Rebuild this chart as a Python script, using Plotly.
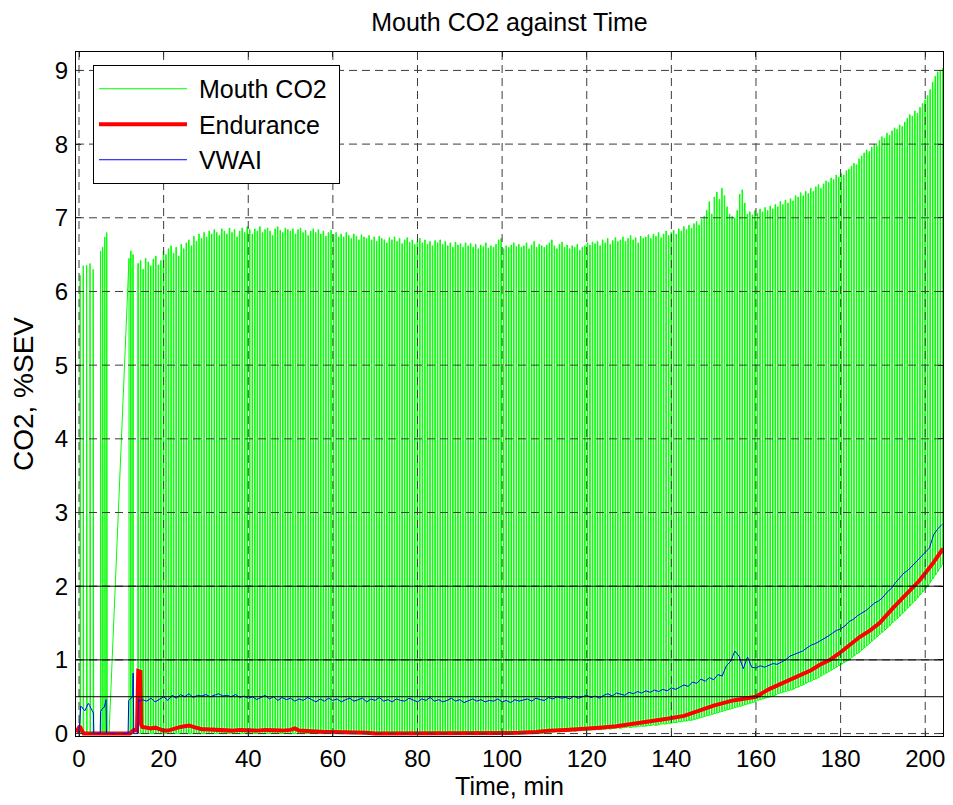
import plotly.graph_objects as go

# ---------------- data ----------------
x_ticks = [0, 20, 40, 60, 80, 100, 120, 140, 160, 180, 200]
y_ticks = [0, 1, 2, 3, 4, 5, 6, 7, 8, 9]
ref_levels = [0.5, 1, 2]
x_range = [-0.71, 204.2]
y_range = [-0.033, 9.25]

# Mouth CO2 - breaths before the logger gap
pre_gap_t = [0.25, 1.0, 1.8, 2.6, 3.35, 5.1, 5.6, 6.1, 6.55]
pre_gap_peak = [6.22, 6.35, 6.36, 6.38, 6.30, 6.55, 6.60, 6.74, 6.80]
gap_start_t = 7.1
# breaths right after the gap
post_gap_t = [11.7, 12.2, 12.7]
post_gap_peak = [6.45, 6.55, 6.50]
# continuous breathing from 13.9 min on, one breath every 0.6 min
breath_start = 13.9
breath_period = 0.6
breath_peak = [
    6.38, 6.42, 6.30, 6.45, 6.40, 6.35, 6.44, 6.48, 6.36, 6.42,
    6.55, 6.50, 6.58, 6.62, 6.52, 6.60, 6.48, 6.64, 6.58, 6.66,
    6.70, 6.62, 6.75, 6.68, 6.78, 6.72, 6.80, 6.74, 6.82, 6.78,
    6.84, 6.80, 6.76, 6.85, 6.82, 6.78, 6.86, 6.80, 6.84, 6.74,
    6.82, 6.86, 6.80, 6.88, 6.84, 6.78, 6.85, 6.82, 6.88, 6.80,
    6.84, 6.86, 6.82, 6.76, 6.85, 6.88, 6.83, 6.80, 6.86, 6.84,
    6.82, 6.85, 6.78, 6.84, 6.86, 6.80, 6.83, 6.76, 6.82, 6.85,
    6.80, 6.84, 6.78, 6.82, 6.75, 6.80, 6.83, 6.77, 6.80, 6.74,
    6.78, 6.74, 6.80, 6.76, 6.72, 6.78, 6.75, 6.70, 6.77, 6.74,
    6.72, 6.76, 6.70, 6.74, 6.68, 6.75, 6.72, 6.70, 6.66, 6.73,
    6.70, 6.74, 6.68, 6.72, 6.65, 6.70, 6.73, 6.67, 6.70, 6.64,
    6.68, 6.72, 6.66, 6.70, 6.64, 6.68, 6.62, 6.69, 6.66, 6.70,
    6.64, 6.68, 6.62, 6.66, 6.60, 6.67, 6.63, 6.65, 6.60, 6.66,
    6.62, 6.65, 6.60, 6.64, 6.58, 6.63, 6.61, 6.66, 6.59, 6.62,
    6.60, 6.64, 6.70, 6.72, 6.58, 6.62, 6.60, 6.63, 6.66, 6.61,
    6.64, 6.60, 6.62, 6.66, 6.58, 6.63, 6.68, 6.60, 6.64, 6.62,
    6.60, 6.63, 6.66, 6.70, 6.62, 6.58, 6.64, 6.67, 6.60, 6.63,
    6.58, 6.62, 6.60, 6.64, 6.56, 6.60, 6.62, 6.66, 6.63, 6.67,
    6.65, 6.68, 6.62, 6.70, 6.66, 6.72, 6.64, 6.69, 6.73, 6.68,
    6.70, 6.74, 6.68, 6.72, 6.76, 6.70, 6.73, 6.66, 6.75, 6.72,
    6.74, 6.77, 6.72, 6.78, 6.75, 6.80, 6.73, 6.78, 6.82, 6.76,
    6.80, 6.83, 6.78, 6.85, 6.82, 6.88, 6.84, 6.90, 6.86, 6.92,
    6.95, 6.90, 6.98, 7.02, 7.10, 7.22, 7.05, 7.28, 7.35, 7.25,
    7.40, 7.30, 7.15, 7.05, 7.02, 7.00, 7.10, 7.32, 7.38, 7.20,
    7.05, 7.08, 7.04, 7.10, 7.06, 7.12, 7.08, 7.14, 7.10, 7.16,
    7.12, 7.18, 7.15, 7.22, 7.18, 7.24, 7.20, 7.26, 7.23, 7.30,
    7.28, 7.34, 7.30, 7.36, 7.33, 7.40, 7.36, 7.42, 7.45, 7.40,
    7.46, 7.50, 7.48, 7.54, 7.52, 7.58, 7.55, 7.60, 7.58, 7.64,
    7.66, 7.70, 7.74, 7.72, 7.80, 7.84, 7.88, 7.92, 7.90, 7.96,
    8.00, 7.98, 8.05, 8.10, 8.08, 8.15, 8.12, 8.18, 8.22, 8.20,
    8.26, 8.24, 8.30, 8.35, 8.40, 8.38, 8.45, 8.42, 8.50, 8.55,
    8.60, 8.66, 8.74, 8.84, 8.92, 8.98, 9.00, 9.03,
]
breath_trough = [0.0] * 160 + [
    0.01, 0.02, 0.01, 0.02, 0.02, 0.03, 0.02, 0.03, 0.03, 0.03,
    0.03, 0.04, 0.03, 0.04, 0.04, 0.05, 0.04, 0.05, 0.05, 0.05,
    0.05, 0.06, 0.05, 0.06, 0.06, 0.07, 0.06, 0.07, 0.07, 0.08,
    0.07, 0.08, 0.08, 0.09, 0.08, 0.09, 0.09, 0.10, 0.10, 0.10,
    0.10, 0.11, 0.11, 0.12, 0.11, 0.12, 0.13, 0.13, 0.13, 0.14,
    0.14, 0.15, 0.15, 0.16, 0.16, 0.17, 0.17, 0.18, 0.18, 0.19,
    0.20, 0.21, 0.22, 0.23, 0.24, 0.25, 0.26, 0.27, 0.28, 0.29,
    0.30, 0.31, 0.32, 0.33, 0.34, 0.35, 0.36, 0.37, 0.38, 0.39,
    0.40, 0.41, 0.42, 0.43, 0.45, 0.46, 0.47, 0.48, 0.49, 0.50,
    0.51, 0.52, 0.54, 0.55, 0.56, 0.57, 0.58, 0.59, 0.60, 0.62,
    0.63, 0.65, 0.66, 0.68, 0.70, 0.71, 0.73, 0.74, 0.76, 0.78,
    0.80, 0.82, 0.84, 0.86, 0.88, 0.90, 0.92, 0.94, 0.96, 0.98,
    1.00, 1.03, 1.05, 1.08, 1.10, 1.13, 1.16, 1.19, 1.22, 1.25,
    1.28, 1.31, 1.34, 1.37, 1.40, 1.43, 1.46, 1.50, 1.53, 1.56,
    1.59, 1.63, 1.66, 1.70, 1.73, 1.77, 1.80, 1.84, 1.88, 1.92,
    1.96, 2.00, 2.05, 2.10, 2.15, 2.20, 2.25, 2.30,
]

# Endurance
endurance_t = [
    -0.7, 0.0, 0.2, 0.5, 0.8, 1.1, 12.0, 12.5, 13.0, 13.7, 13.9, 14.0, 14.5, 14.7, 15.0,
    16, 17, 18, 19, 20, 21, 22, 23, 24, 25, 26, 27, 28, 29, 30,
    32, 34, 36, 38, 40, 42, 44, 46, 48, 50, 51, 52, 54, 56, 58, 60, 62, 64, 66, 68, 70,
    75, 80, 85, 90, 95, 100, 104, 108, 111, 115, 119, 123, 127, 131, 135, 139, 143,
    146.7, 150, 154.6, 157, 160, 163, 166.4, 170.3, 173, 175, 177.5, 179.7, 182, 184.5,
    187, 189.2, 192.3, 195.5, 198.7, 201.8, 204.2,
]
endurance_v = [
    0.02, 0.09, 0.10, 0.06, 0.01, 0.0, 0.0, 0.03, 0.05, 0.04, 0.84, 0.85, 0.84, 0.12, 0.09,
    0.08, 0.07, 0.08, 0.06, 0.04, 0.04, 0.06, 0.08, 0.09, 0.10, 0.11, 0.09, 0.07, 0.06, 0.06,
    0.05, 0.05, 0.04, 0.05, 0.04, 0.04, 0.05, 0.04, 0.04, 0.05, 0.07, 0.04, 0.03, 0.03, 0.02,
    0.02, 0.02, 0.01, 0.01, 0.01, 0.0,
    0.0, 0.01, 0.0, 0.0, 0.01, 0.01, 0.01, 0.02, 0.04, 0.05, 0.06, 0.08, 0.10, 0.13, 0.17,
    0.20, 0.24,
    0.31, 0.38, 0.45, 0.47, 0.50, 0.60, 0.69, 0.78, 0.86, 0.93, 1.00, 1.09, 1.20, 1.31,
    1.40, 1.50, 1.70, 1.89, 2.08, 2.31, 2.51,
]

# VWAI
vwai_early_t = [-0.2, 0.1, 0.4, 0.7, 1.0, 1.4, 1.8, 2.2, 2.5, 2.8, 3.1, 3.4, 3.5, 5.0, 5.1,
                5.4, 5.7, 6.0, 6.4, 6.5, 11.6, 11.75, 12.05, 12.4, 12.7, 12.8, 12.95, 13.9,
                14.05, 14.4]
vwai_early_v = [0.0, 0.1, 0.37, 0.36, 0.33, 0.31, 0.36, 0.41, 0.38, 0.34, 0.30, 0.28, 0.0,
                0.0, 0.30, 0.33, 0.35, 0.36, 0.46, 0.0, 0.0, 0.45, 0.47, 0.48, 0.50, 0.82,
                0.0, 0.0, 0.47, 0.44]
vwai_main_start = 15
vwai_main = [
    0.46, 0.44, 0.48, 0.43, 0.47, 0.50, 0.45, 0.52, 0.48, 0.53,
    0.50, 0.54, 0.49, 0.52, 0.51, 0.53, 0.50, 0.52, 0.54, 0.51,
    0.52, 0.50, 0.53, 0.49, 0.51, 0.48, 0.50, 0.46, 0.49, 0.52,
    0.47, 0.50, 0.45, 0.49, 0.46, 0.48, 0.44, 0.47, 0.45, 0.49,
    0.46, 0.43, 0.47, 0.44, 0.48, 0.45, 0.47, 0.43, 0.46, 0.48,
    0.44, 0.46, 0.48, 0.43, 0.47, 0.45, 0.49, 0.44, 0.46, 0.43,
    0.47, 0.45, 0.44, 0.48, 0.46, 0.43, 0.47, 0.45, 0.49, 0.44,
    0.46, 0.43, 0.45, 0.48, 0.44, 0.46, 0.42, 0.45, 0.47, 0.44,
    0.46, 0.43, 0.45, 0.44, 0.47, 0.43, 0.45, 0.42, 0.46, 0.44,
    0.45, 0.47, 0.44, 0.48, 0.46, 0.45, 0.49, 0.47, 0.50, 0.48,
    0.49, 0.47, 0.51, 0.48, 0.50, 0.52, 0.49, 0.51, 0.48, 0.52,
    0.54, 0.51, 0.55, 0.53, 0.52, 0.56, 0.54, 0.57, 0.55, 0.58,
    0.56, 0.59, 0.57, 0.60, 0.58, 0.62, 0.60, 0.63, 0.66, 0.64,
    0.70, 0.68, 0.74, 0.71, 0.76, 0.73, 0.80, 0.78, 0.92, 0.98,
    1.12, 1.05, 0.88, 1.04, 0.90, 0.89, 0.92, 0.90, 0.93, 0.95,
    0.94, 0.97, 1.00, 1.05, 1.07, 1.10, 1.12, 1.16, 1.20, 1.22,
    1.25, 1.28, 1.32, 1.36, 1.40, 1.42, 1.46, 1.52, 1.55, 1.60,
    1.63, 1.67, 1.72, 1.77, 1.80, 1.85, 1.92, 1.97, 2.05, 2.12,
    2.18, 2.22, 2.28, 2.34, 2.40, 2.46, 2.52, 2.70, 2.78, 2.84,
]

assert len(breath_peak) == len(breath_trough)
assert len(endurance_t) == len(endurance_v)
assert len(vwai_early_t) == len(vwai_early_v)
assert len(pre_gap_t) == len(pre_gap_peak) and len(post_gap_t) == len(post_gap_peak)

# ---------------- build the CO2 waveform from the breath values ----------------
BREATH_W = 0.12  # plateau width of one exhalation (min)


def breaths(times, peaks, troughs, lead=True):
    xs, ys = [], []
    for i, (t, p, b) in enumerate(zip(times, peaks, troughs)):
        if lead or i > 0:
            xs.append(t); ys.append(b)
        xs += [t, t + BREATH_W, t + BREATH_W]
        ys += [p, p, b]
    return xs, ys


co2_x, co2_y = [], []
bx, by = breaths(pre_gap_t, pre_gap_peak, [0.0] * len(pre_gap_t))
co2_x += bx; co2_y += by
co2_x.append(gap_start_t); co2_y.append(0.0)
bx, by = breaths(post_gap_t, post_gap_peak, [0.0] * len(post_gap_t), lead=False)
co2_x += bx; co2_y += by
main_t = [breath_start + k * breath_period for k in range(len(breath_peak))]
bx, by = breaths(main_t, breath_peak, breath_trough)
co2_x += bx; co2_y += by

vwai_t = vwai_early_t + [vwai_main_start + k for k in range(len(vwai_main))]
vwai_v = vwai_early_v + vwai_main

# ---------------- figure ----------------
FONT = "Liberation Sans, Arial, Helvetica, sans-serif"
NB = "\u00a0"

fig = go.Figure()
fig.add_trace(go.Scatter(x=co2_x, y=co2_y, mode="lines", name=NB + "Mouth CO2" + NB,
                         line=dict(color="#00ff00", width=1)))
fig.add_trace(go.Scatter(x=endurance_t, y=endurance_v, mode="lines", name=NB + "Endurance",
                         line=dict(color="#ff0000", width=4)))
fig.add_trace(go.Scatter(x=vwai_t, y=vwai_v, mode="lines", name=NB + "VWAI",
                         line=dict(color="#0000ff", width=1)))

grid_style = dict(color="#3c3c3c", width=1, dash="8px,5px")
for v in x_ticks:
    fig.add_vline(x=v, line=grid_style, layer="above")
for v in y_ticks:
    fig.add_hline(y=v, line=grid_style, layer="above")
for v in ref_levels:
    fig.add_hline(y=v, line=dict(color="#000000", width=1), layer="above")

axis_common = dict(
    showgrid=False, zeroline=False, showline=True, linecolor="black", linewidth=1,
    mirror="ticks", ticks="inside", ticklen=5, tickcolor="black",
    tickfont=dict(family=FONT, size=24, color="black"),
)
fig.update_xaxes(range=x_range, tickvals=x_ticks, ticklabelstandoff=1,
                 title=dict(text="Time, min", font=dict(family=FONT, size=25, color="black"),
                            standoff=6),
                 **axis_common)
fig.update_yaxes(range=y_range, tickvals=y_ticks, ticklabelstandoff=2,
                 title=dict(text="CO2, %SEV", font=dict(family=FONT, size=28, color="black"),
                            standoff=16),
                 **axis_common)

# The page body adds an 8 px offset, so the figure is drawn 8 px smaller.
W, H = 945, 797
fig.update_layout(
    width=W, height=H,
    margin=dict(l=68, r=9.7, t=44, b=69.3, autoexpand=False),
    paper_bgcolor="white", plot_bgcolor="white",
    font=dict(family=FONT, color="black"),
    title=dict(text="Mouth CO2 against Time", x=0.5, xref="paper", y=1 - 14 / H,
               yref="container", yanchor="middle", xanchor="center",
               font=dict(family=FONT, size=25, color="black")),
    legend=dict(x=0.0196, y=0.981, xanchor="left", yanchor="top",
                bgcolor="white", bordercolor="black", borderwidth=1,
                font=dict(family=FONT, size=25, color="black"),
                itemwidth=88, tracegroupgap=0),
    showlegend=True,
)

fig.write_html("out.html")
